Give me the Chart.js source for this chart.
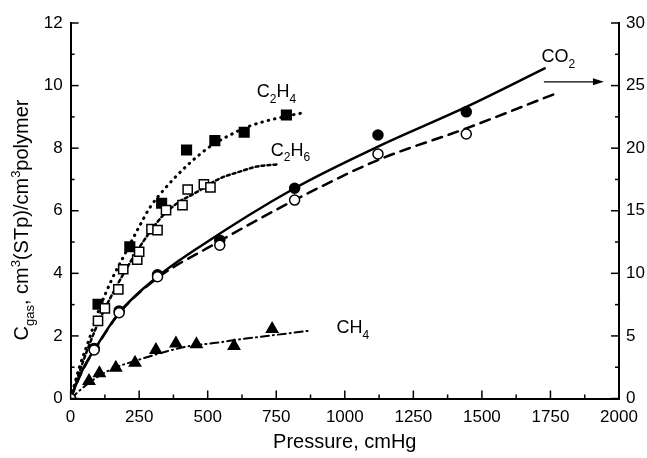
<!DOCTYPE html>
<html>
<head>
<meta charset="utf-8">
<script src="https://cdn.jsdelivr.net/npm/chart.js@4.4.1/dist/chart.umd.min.js"></script>
<style>
  body { margin: 0; background: #fff; }
  canvas { display: block; }
</style>
</head>
<body>
<canvas id="sorption" width="647" height="458"></canvas>
<script>
// C2H4 (filled squares) and its dotted fit
const c2h4P = [100, 216, 332, 423, 526, 633, 787];
const c2h4C = [3.01, 4.85, 6.24, 7.94, 8.24, 8.51, 9.06];
const c2h4FitP = [0, 32, 68, 100, 150, 200, 247, 289, 348, 423, 502, 581, 654, 750, 848];
const c2h4FitC = [0, 1.0, 1.9, 2.75, 3.8, 4.65, 5.44, 6.1, 6.75, 7.43, 8.01, 8.42, 8.71, 8.95, 9.13];

// C2H6 (open squares) and its short-dash fit
const c2h6P = [100, 125, 174, 192, 243, 250, 295, 317, 348, 408, 427, 486, 510];
const c2h6C = [2.48, 2.88, 3.49, 4.13, 4.44, 4.69, 5.41, 5.38, 6.02, 6.18, 6.68, 6.84, 6.75];
const c2h6FitP = [0, 52, 95, 150, 222, 277, 332, 390, 453, 544, 617, 678, 751];
const c2h6FitC = [0, 1.34, 2.3, 3.3, 4.42, 5.17, 5.8, 6.25, 6.56, 7.03, 7.25, 7.41, 7.48];

// CH4 (filled triangles) and dash-dot fit
const ch4P = [67, 105, 165, 235, 311, 384, 459, 596, 735];
const ch4C = [0.56, 0.81, 0.98, 1.14, 1.55, 1.76, 1.73, 1.68, 2.22];
const ch4FitP = [0, 67, 143, 253, 423, 532, 617, 690, 875];
const ch4FitC = [0, 0.5, 0.91, 1.25, 1.66, 1.78, 1.89, 1.97, 2.17];

// CO2, read against the right-hand axis
const co2FilledP = [0, 86, 177, 317, 544, 817, 1121, 1443];
const co2FilledC = [0, 4.0, 7.0, 9.88, 12.65, 16.8, 21.05, 22.9];
const co2OpenP = [0, 86, 177, 317, 544, 817, 1121, 1443];
const co2OpenC = [0, 3.88, 6.85, 9.73, 12.25, 15.85, 19.53, 21.13];
const co2SolidP = [0, 32, 56, 86, 177, 317, 471, 817, 1121, 1443, 1729];
const co2SolidC = [0, 1.75, 2.8, 3.88, 6.85, 9.73, 12.13, 16.8, 20.13, 23.3, 26.38];
const co2DashP = [0, 32, 56, 86, 177, 317, 508, 817, 1121, 1443, 1777];
const co2DashC = [0, 1.7, 2.75, 3.83, 6.8, 9.63, 12.13, 15.85, 19.05, 21.58, 24.43];

const FONT = "'Liberation Sans', Arial, sans-serif";

function xy(xs, ys) {
    return xs.map(function (x, i) { return { x: x, y: ys[i] }; });
}

function marks(label, xs, ys, style, axis, order) {
    return Object.assign({
        label: label,
        data: xy(xs, ys),
        showLine: false,
        yAxisID: axis,
        order: order,
        borderColor: '#000',
        borderWidth: 1.5
    }, style);
}

function curve(label, xs, ys, dash, axis, width) {
    return {
        label: label,
        data: xy(xs, ys),
        showLine: true,
        yAxisID: axis,
        order: 10,
        pointRadius: 0,
        borderColor: '#000',
        borderWidth: width || 2.5,
        borderDash: dash,
        borderCapStyle: 'round',
        cubicInterpolationMode: 'monotone',
        fill: false
    };
}

// inward major/minor ticks on all three axes
const inwardTicks = {
    id: 'inwardTicks',
    afterDatasetsDraw(chart) {
        const ctx = chart.ctx, a = chart.chartArea;
        const sx = chart.scales.x, sy = chart.scales.y, sy1 = chart.scales.y1;
        ctx.save();
        ctx.strokeStyle = '#000';
        ctx.lineWidth = 1.5;
        function seg(x1, y1, x2, y2) {
            ctx.beginPath(); ctx.moveTo(x1, y1); ctx.lineTo(x2, y2); ctx.stroke();
        }
        for (let v = 0; v <= 2000; v += 125) {
            const px = sx.getPixelForValue(v);
            seg(px, a.bottom, px, a.bottom - (v % 250 === 0 ? 8 : 4));
        }
        for (let v = 0; v <= 12; v += 1) {
            const py = sy.getPixelForValue(v);
            seg(a.left, py, a.left + (v % 2 === 0 ? 8 : 4), py);
        }
        for (let v = 0; v <= 30; v += 2.5) {
            const py = sy1.getPixelForValue(v);
            seg(a.right, py, a.right - (v % 5 === 0 ? 8 : 4), py);
        }
        ctx.restore();
    }
};

function richWidth(ctx, parts, size) {
    let w = 0;
    parts.forEach(function (p) {
        ctx.font = (p[1] === 'n' ? size : Math.round(size * 0.65)) + 'px ' + FONT;
        w += ctx.measureText(p[0]).width;
    });
    return w;
}

function richText(ctx, parts, x, y, size) {
    let cx = x;
    parts.forEach(function (p) {
        const small = Math.round(size * 0.65);
        ctx.font = (p[1] === 'n' ? size : small) + 'px ' + FONT;
        let dy = 0;
        if (p[1] === 'sub') dy = size * 0.3;
        if (p[1] === 'sup') dy = -size * 0.42;
        ctx.fillText(p[0], cx, y + dy);
        cx += ctx.measureText(p[0]).width;
    });
}

// gas names, the CO2 arrow and the rotated y title
const annotations = {
    id: 'annotations',
    afterDraw(chart) {
        const ctx = chart.ctx;
        const sx = chart.scales.x, sy = chart.scales.y;
        ctx.save();
        ctx.fillStyle = '#000';
        ctx.textBaseline = 'alphabetic';
        ctx.textAlign = 'left';
        const names = [
            { parts: [['C', 'n'], ['2', 'sub'], ['H', 'n'], ['4', 'sub']], p: 679, c: 9.63 },
            { parts: [['C', 'n'], ['2', 'sub'], ['H', 'n'], ['6', 'sub']], p: 730, c: 7.75 },
            { parts: [['CH', 'n'], ['4', 'sub']], p: 970, c: 2.09 },
            { parts: [['CO', 'n'], ['2', 'sub']], p: 1717, c: 10.75 }
        ];
        names.forEach(function (n) {
            richText(ctx, n.parts, sx.getPixelForValue(n.p), sy.getPixelForValue(n.c), 18);
        });

        // arrow towards the right axis
        const ax1 = sx.getPixelForValue(1726), ax2 = sx.getPixelForValue(1945);
        const ay = sy.getPixelForValue(10.12);
        ctx.strokeStyle = '#000';
        ctx.lineWidth = 1.3;
        ctx.beginPath(); ctx.moveTo(ax1, ay); ctx.lineTo(ax2 - 6, ay); ctx.stroke();
        ctx.beginPath();
        ctx.moveTo(ax2, ay); ctx.lineTo(ax2 - 11, ay - 3.5); ctx.lineTo(ax2 - 11, ay + 3.5);
        ctx.closePath(); ctx.fill();

        // y title
        const title = [['C', 'n'], ['gas', 'sub'], [', cm', 'n'], ['3', 'sup'],
            ['(STp)/cm', 'n'], ['3', 'sup'], ['polymer', 'n']];
        const w = richWidth(ctx, title, 20);
        ctx.translate(28, 220);
        ctx.rotate(-Math.PI / 2);
        richText(ctx, title, -w / 2, 0, 20);
        ctx.restore();
    }
};

const plainNumber = function (v) { return String(v); };

new Chart(document.getElementById('sorption'), {
    type: 'scatter',
    data: {
        datasets: [
            marks('CO2 open', co2OpenP, co2OpenC,
                { pointStyle: 'circle', pointRadius: 5, backgroundColor: '#fff' }, 'y1', 0),
            marks('CO2 filled', co2FilledP, co2FilledC,
                { pointStyle: 'circle', pointRadius: 5, backgroundColor: '#000' }, 'y1', 1),
            marks('C2H6', c2h6P, c2h6C,
                { pointStyle: 'rect', pointRadius: 6.5, backgroundColor: '#fff' }, 'y', 2),
            marks('C2H4', c2h4P, c2h4C,
                { pointStyle: 'rect', pointRadius: 6.8, backgroundColor: '#000' }, 'y', 3),
            marks('CH4', ch4P, ch4C,
                { pointStyle: 'triangle', pointRadius: 6.5, backgroundColor: '#000' }, 'y', 4),
            curve('C2H4 fit', c2h4FitP, c2h4FitC, [0.5, 6], 'y', 3),
            curve('C2H6 fit', c2h6FitP, c2h6FitC, [3, 3], 'y'),
            curve('CH4 fit', ch4FitP, ch4FitC, [8, 4, 1, 4], 'y', 2),
            curve('CO2 fit', co2SolidP, co2SolidC, [], 'y1'),
            curve('CO2 fit 2', co2DashP, co2DashC, [10, 7], 'y1')
        ]
    },
    options: {
        responsive: false,
        animation: false,
        devicePixelRatio: 1,
        layout: { padding: { top: 23, left: 0, right: 0, bottom: 0 } },
        plugins: {
            legend: { display: false },
            tooltip: { enabled: false }
        },
        scales: {
            x: {
                type: 'linear',
                min: 0, max: 2000,
                afterFit: function (s) { s.height = 59.5; },
                grid: { display: false, drawTicks: false },
                border: { display: true, color: '#000', width: 2 },
                ticks: { stepSize: 250, padding: 9, color: '#000', callback: plainNumber,
                    font: { family: FONT, size: 17 } },
                title: { display: true, text: 'Pressure, cmHg', color: '#000', padding: { top: 2 },
                    font: { family: FONT, size: 20 } }
            },
            y: {
                type: 'linear',
                position: 'left',
                min: 0, max: 12,
                afterFit: function (s) { s.width = 70.6; },
                grid: { display: false, drawTicks: false },
                border: { display: true, color: '#000', width: 2 },
                ticks: { stepSize: 2, padding: 8, color: '#000', callback: plainNumber,
                    font: { family: FONT, size: 17 } }
            },
            y1: {
                type: 'linear',
                position: 'right',
                min: 0, max: 30,
                afterFit: function (s) { s.width = 28; },
                grid: { display: false, drawTicks: false },
                border: { display: true, color: '#000', width: 2 },
                ticks: { stepSize: 5, padding: 7, color: '#000', callback: plainNumber,
                    font: { family: FONT, size: 17 } }
            }
        }
    },
    plugins: [inwardTicks, annotations]
});
</script>
</body>
</html>
